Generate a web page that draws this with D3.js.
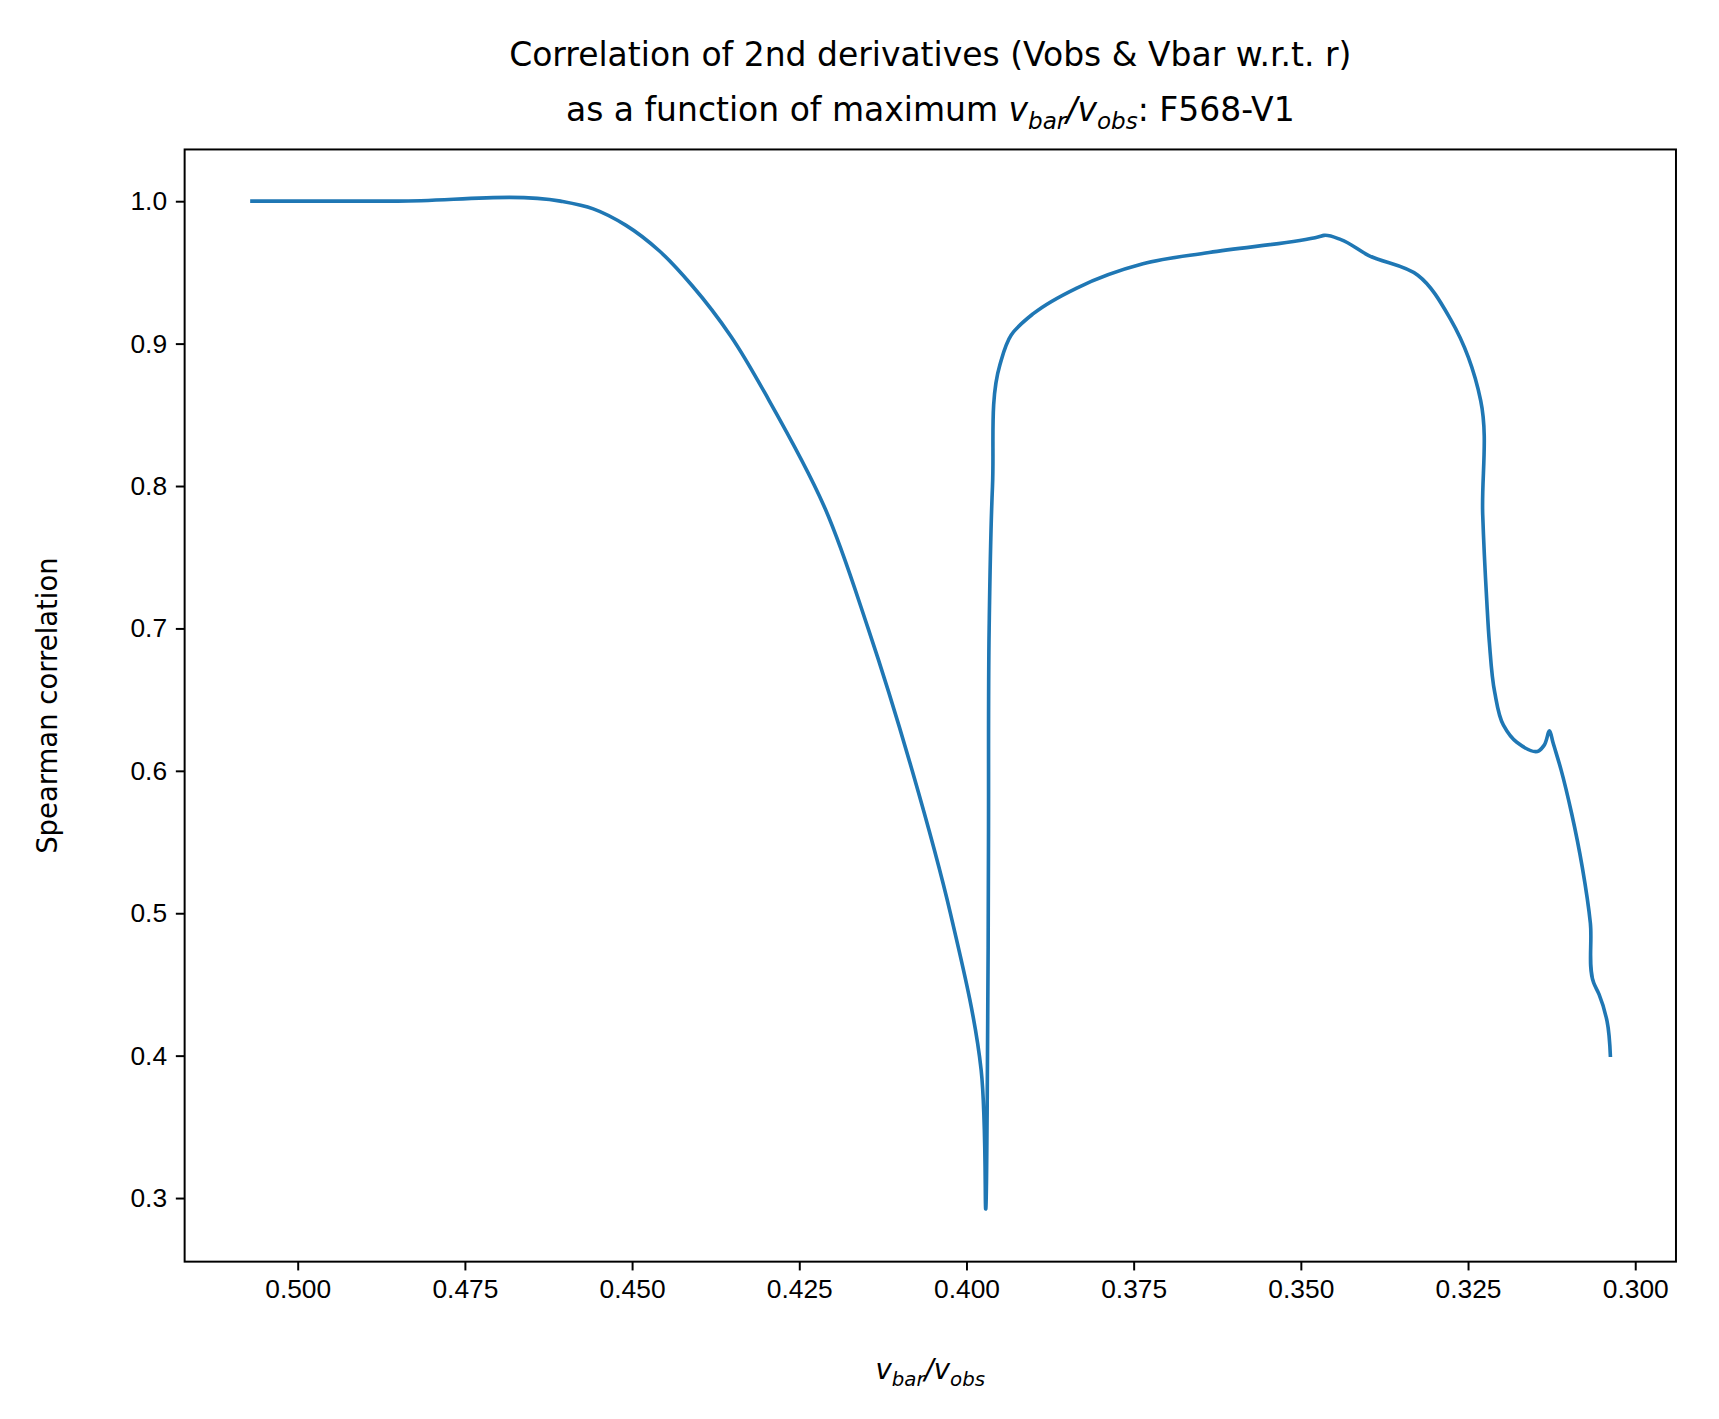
<!DOCTYPE html>
<html><head><meta charset="utf-8">
<script src="https://cdn.jsdelivr.net/npm/d3@7"></script>
<style>body{margin:0;background:#fff}svg{font-family:"DejaVu Sans",sans-serif}</style>
</head><body><svg id="c" width="1719" height="1419"></svg>
<script>
// ratio values (x) and spearman correlation (y)
var ratio = [0.5071,0.4850,0.4607,0.4558,0.4509,0.4459,0.4410,0.4352,0.4295,0.4213,0.4147,0.4081,0.4024,0.3978,0.3971,
  0.3969,0.3967,0.3966,0.3961,0.3950,0.3933,0.3900,0.3835,0.3736,0.3637,0.3473,0.3465,0.3440,0.3399,0.3325,0.3276,0.3231,
  0.3228,0.3222,0.3218,0.3210,0.3197,0.3177,0.3144,0.3136,0.3128,0.3123,0.3111,0.3095,0.3079,0.3067,0.3062,0.3054,0.3042,0.3037];
var corr = [1.0,1.0,1.0,0.9946,0.983,0.965,0.9406,0.905,0.86,0.786,0.70,0.60,0.50,0.39,0.2925,
  0.36,0.55,0.70,0.80,0.885,0.906,0.921,0.939,0.956,0.964,0.975,0.976,0.973,0.962,0.948,0.917,0.860,
  0.78,0.72,0.69,0.655,0.632,0.620,0.614,0.618,0.628,0.620,0.601,0.570,0.532,0.493,0.451,0.443,0.424,0.399];
var xTicks = [0.500,0.475,0.450,0.425,0.400,0.375,0.350,0.325,0.300];
var yTicks = [0.3,0.4,0.5,0.6,0.7,0.8,0.9,1.0];

var svg = d3.select("#c").append("g").attr("transform","scale(1.099)");
var L=168,R=1525,T=136,B=1148;
var x = d3.scaleLinear().domain([0.5169,0.2939]).range([L,R]);
var y = d3.scaleLinear().domain([0.2553,1.0363]).range([B,T]);

var xa = svg.append("g").attr("transform","translate(0,"+B+")")
  .call(d3.axisBottom(x).tickValues(xTicks).tickFormat(d3.format(".3f")).tickSize(8).tickPadding(8));
var ya = svg.append("g").attr("transform","translate("+L+",0)")
  .call(d3.axisLeft(y).tickValues(yTicks).tickFormat(d3.format(".1f")).tickSize(8).tickPadding(8));
[xa,ya].forEach(function(a){
  a.select(".domain").remove();
  a.selectAll("line").attr("stroke","#000").attr("stroke-width",1.8);
  a.selectAll("text").attr("font-size",24).attr("fill","#000");
});
svg.append("rect").attr("x",L).attr("y",T).attr("width",R-L).attr("height",B-T)
  .attr("fill","none").attr("stroke","#000").attr("stroke-width",1.8);

var pts = ratio.map(function(d,i){return [d,corr[i]];});
svg.append("path").datum(pts)
  .attr("d",d3.line().x(function(d){return x(d[0]);}).y(function(d){return y(d[1]);}).curve(d3.curveCatmullRom.alpha(0.9)))
  .attr("fill","none").attr("stroke","#1f77b4").attr("stroke-width",3.3);

// titles
var t = svg.append("text").attr("x",(L+R)/2).attr("text-anchor","middle").attr("font-size",30);
t.append("tspan").attr("x",(L+R)/2).attr("y",60).text("Correlation of 2nd derivatives (Vobs & Vbar w.r.t. r)");
var t2 = t.append("tspan").attr("x",(L+R)/2).attr("y",110);
t2.append("tspan").text("as a function of maximum ");
t2.append("tspan").attr("font-style","italic").text("v");
t2.append("tspan").attr("font-style","italic").attr("font-size",21).attr("dy",7).text("bar");
t2.append("tspan").attr("font-style","italic").attr("dy",-7).text("/v");
t2.append("tspan").attr("font-style","italic").attr("font-size",21).attr("dy",7).text("obs");
t2.append("tspan").attr("dy",-7).text(": F568-V1");

var xl = svg.append("text").attr("x",(L+R)/2).attr("y",1255).attr("text-anchor","middle").attr("font-size",25).attr("font-style","italic");
xl.append("tspan").text("v");
xl.append("tspan").attr("font-size",18).attr("dy",6).text("bar");
xl.append("tspan").attr("dy",-6).text("/v");
xl.append("tspan").attr("font-size",18).attr("dy",6).text("obs");

svg.append("text").attr("transform","translate(52,"+((T+B)/2)+") rotate(-90)")
  .attr("text-anchor","middle").attr("font-size",25).text("Spearman correlation");
</script></body></html>
